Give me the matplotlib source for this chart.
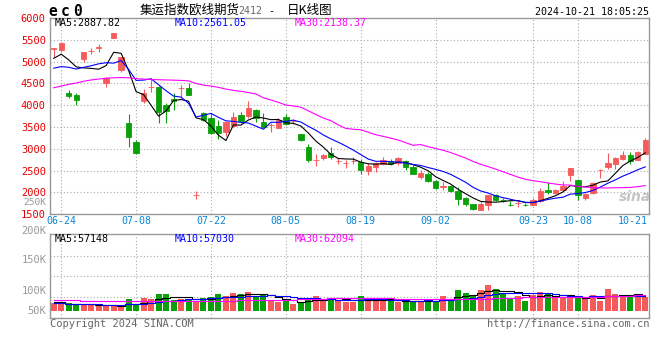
import matplotlib
matplotlib.use('Agg')
import matplotlib.pyplot as plt
import matplotlib.transforms as mtransforms
import numpy as np
import pandas as pd

plt.rcParams['font.family'] = ['DejaVu Sans Mono', 'Noto Sans CJK SC']
plt.rcParams['font.size'] = 7.2

# daily K-line, 80 sessions (06-21 .. 10-21)
OPEN = [5300, 5265, 4288, 4236, 5050, 5245, 5322, 4503, 5547, 4810,
        3602, 3167, 4098, 4420, 4426, 4007, 4150, 4398, 4403, 1943,
        3817, 3703, 3526, 3382, 3533, 3778, 3755, 3892, 3625, 3545,
        3488, 3739, 3636, 3343, 3039, 2743, 2787, 2916, 2728, 2682,
        2728, 2710, 2497, 2595, 2650, 2733, 2673, 2733, 2595, 2366,
        2428, 2252, 2133, 2138, 2039, 1872, 1742, 1605, 1719, 1948,
        1822, 1723, 1753, 1723, 1719, 1794, 2062, 1987, 2062, 2405,
        2275, 1872, 1987, 2515, 2573, 2657, 2771, 2863, 2748, 2879]
HIGH = [5310, 5455, 4343, 4275, 5230, 5304, 5396, 4648, 5661, 5115,
        3800, 3206, 4373, 4618, 4440, 4060, 4275, 4464, 4503, 2023,
        3854, 3817, 3664, 3630, 3854, 3854, 4098, 3908, 3817, 3588,
        3703, 3790, 3687, 3350, 3115, 2879, 2879, 3039, 2801, 2748,
        2810, 2771, 2673, 2710, 2810, 2771, 2824, 2740, 2634, 2520,
        2481, 2275, 2229, 2161, 2115, 1886, 1745, 1794, 1950, 1971,
        1872, 1794, 1794, 1760, 1872, 2101, 2238, 2085, 2252, 2560,
        2314, 1987, 2245, 2535, 2916, 2824, 2955, 2939, 2950, 3245]
LOW = [5110, 5226, 4174, 4007, 5000, 5167, 5213, 4426, 5533, 4770,
       3053, 2879, 4046, 4311, 3588, 3588, 3893, 4174, 4230, 1856,
       3641, 3336, 3229, 3305, 3510, 3600, 3703, 3611, 3474, 3396,
       3470, 3540, 3565, 3185, 2710, 2618, 2748, 2771, 2650, 2558,
       2657, 2421, 2405, 2481, 2634, 2634, 2634, 2520, 2420, 2314,
       2250, 2085, 2046, 2009, 1719, 1680, 1605, 1600, 1605, 1794,
       1781, 1680, 1658, 1680, 1703, 1780, 1964, 1964, 2046, 2252,
       1818, 1818, 1971, 2330, 2543, 2543, 2748, 2657, 2748, 2879]
CLOSE = [5305, 5420, 4219, 4121, 5215, 5250, 5327, 4631, 5647, 5100,
         3282, 2902, 4288, 4426, 3854, 3870, 4100, 4403, 4236, 1948,
         3664, 3359, 3359, 3625, 3739, 3641, 3945, 3703, 3510, 3549,
         3664, 3560, 3641, 3206, 2748, 2748, 2863, 2810, 2733, 2687,
         2733, 2520, 2618, 2687, 2748, 2650, 2787, 2573, 2428, 2458,
         2252, 2101, 2138, 2023, 1856, 1742, 1620, 1742, 1948, 1834,
         1818, 1719, 1758, 1719, 1818, 2039, 2000, 2046, 2154, 2558,
         1932, 1971, 2215, 2520, 2687, 2801, 2863, 2733, 2939, 3206]
# volume, thousand lots
VOLUME = [31.4, 28.8, 28.8, 22.3, 22.3, 22.3, 22.3, 19.7, 18.3, 18.3,
          45.9, 22.3, 51.1, 45.9, 65.5, 65.5, 41.9, 45.9, 45.9, 35.4,
          51.1, 52.4, 65.5, 57.6, 70.7, 65.5, 74.7, 57.6, 61.6, 41.9,
          35.4, 41.9, 26.2, 31.4, 48.5, 59.0, 45.9, 48.5, 41.9, 32.8,
          32.8, 57.6, 41.9, 41.9, 41.9, 41.9, 32.8, 35.4, 35.4, 35.4,
          45.9, 35.4, 57.6, 45.9, 81.2, 70.7, 61.6, 81.2, 100.9, 85.2,
          65.5, 51.1, 57.6, 39.3, 61.6, 74.7, 70.7, 51.1, 51.1, 51.1,
          52.4, 45.9, 61.6, 39.3, 85.2, 65.5, 55.0, 57.6, 55.0, 52.4]

# moving averages before a full window exists
MA5_HEAD = [5075, 5170, 5040, 4880]
MA10_HEAD = [4850, 4885, 4870, 4830, 4870, 4905, 4950, 4975, 4965]
MA30_HEAD = [4400, 4440, 4480, 4510, 4550, 4580, 4600, 4620, 4630, 4635,
             4630, 4610, 4600, 4590, 4585, 4580, 4575, 4570, 4560, 4500,
             4460, 4440, 4410, 4370, 4340, 4320, 4290, 4260, 4170]
VMA5_HEAD = [33, 33, 27, 26]
VMA10_HEAD = [30, 30, 28, 27, 26, 26, 25, 24, 23]
VMA30_HEAD = [43, 43, 43, 43, 39, 39, 39, 36, 36, 36,
              36, 36, 37, 37, 37, 37, 37, 37, 37, 39,
              39, 39, 39, 39, 39, 41, 41, 41, 41]

DATE_LABELS = ['06-24', '07-08', '07-22', '08-05', '08-19', '09-02', '09-23', '10-08', '10-21']
DATE_IDX = [1, 11, 21, 31, 41, 51, 64, 70, 79]
PRICE_TICKS = [1500, 2000, 2500, 3000, 3500, 4000, 4500, 5000, 5500, 6000]
VOL_LABELS = ['200K', '150K', '100K', '50K']

RED = '#f65a5a'
GREEN = '#0aa00a'
GRID = '#aaaaaa'
FRAME = '#999999'
W, H = 660., 360.


def moving_average(values, window, head):
    ma = pd.Series(values, dtype=float).rolling(window).mean()
    ma.iloc[:len(head)] = head
    return ma.values


def fxy(px, py):
    return px / W, 1 - py / H


def style_frame(ax):
    for s in ax.spines.values():
        s.set_color(FRAME)
        s.set_linewidth(1.0)
    ax.grid(True, color=GRID, linestyle=(0, (1, 2)), linewidth=0.8)
    ax.set_axisbelow(True)


def main():
    o, h, l, c = (np.array(a, dtype=float) for a in (OPEN, HIGH, LOW, CLOSE))
    vol = np.array(VOLUME)
    x = np.arange(len(c))
    colors = np.where(c >= o, RED, GREEN)

    fig = plt.figure(figsize=(6.6, 3.6), dpi=100)
    ax = fig.add_axes([50 / W, 1 - 214.3 / H, 599 / W, 196.3 / H])
    vax = fig.add_axes([50 / W, 1 - 318.3 / H, 599 / W, 84 / H])

    # price panel
    ax.vlines(x, l, h, colors=colors, linewidth=0.8)
    ax.bar(x, np.abs(c - o), bottom=np.minimum(o, c), width=0.72,
           color=colors, edgecolor=colors, linewidth=0.6)
    ax.plot(x, moving_average(c, 5, MA5_HEAD), color='black', lw=0.8)
    ax.plot(x, moving_average(c, 10, MA10_HEAD), color='#0000ff', lw=0.8)
    ax.plot(x, moving_average(c, 30, MA30_HEAD), color='#ff00ff', lw=0.8)
    ax.set_xlim(-0.5, len(c) - 0.5)
    ax.set_ylim(PRICE_TICKS[0], PRICE_TICKS[-1])
    ax.set_yticks(PRICE_TICKS)
    ax.set_yticklabels([str(t) for t in PRICE_TICKS], color='#e60000', fontsize=7.5)
    lift = mtransforms.ScaledTranslation(0, 2 / 100., fig.dpi_scale_trans)
    for lab in ax.get_yticklabels():
        lab.set_transform(lab.get_transform() + lift)
    ax.set_xticks(DATE_IDX[:-1])
    ax.set_xticklabels([])
    ax.tick_params(length=0, pad=3)
    style_frame(ax)

    tr = ax.get_xaxis_transform()
    for lab, i in zip(DATE_LABELS[:-1], DATE_IDX[:-1]):
        ax.text(i, -0.032, lab, transform=tr, ha='center', va='center', color='#0a86d6')
    ax.text(0.998, -0.032, DATE_LABELS[-1], transform=ax.transAxes,
            ha='right', va='center', color='#0a86d6')

    # volume panel
    vax.bar(x, vol, width=0.8, color=colors, linewidth=0)
    vax.step(x, moving_average(vol, 5, VMA5_HEAD), where='mid', color='black', lw=0.8)
    vax.step(x, moving_average(vol, 10, VMA10_HEAD), where='mid', color='#0000ff', lw=0.8)
    vax.step(x, moving_average(vol, 30, VMA30_HEAD), where='mid', color='#ff00ff', lw=0.8)
    vax.set_xlim(-0.5, len(c) - 0.5)
    vax.set_ylim(-30, 300)
    vax.set_xticks(DATE_IDX[:-1])
    vax.set_xticklabels([])
    vax.set_yticks([])
    vax.tick_params(length=0)
    style_frame(vax)
    for f in (0.255, 0.5, 0.745):
        vax.plot([0, 1], [f, f], transform=vax.transAxes, color=GRID,
                 linestyle=(0, (1, 2)), linewidth=0.8, zorder=0)

    # header
    for px, ch in zip([48, 61, 73], 'ec0'):
        fig.text(*fxy(px, 16), ch, fontsize=10.5, fontweight='bold', va='baseline')
    cjk = ['Noto Sans CJK SC', 'DejaVu Sans']
    fig.text(*fxy(140, 10.5), '集运指数欧线期货', family=cjk, fontsize=9, va='center')
    fig.text(*fxy(238, 11.5), '2412', color='#666666', va='center')
    fig.text(*fxy(268, 11.5), '-', va='center')
    fig.text(*fxy(287, 10.5), '日K线图', family=cjk, fontsize=9, va='center')
    fig.text(*fxy(649, 11.7), '2024-10-21 18:05:25', ha='right', va='center')

    for px, txt, col in [(54.7, 'MA5:2887.82', 'black'), (174.7, 'MA10:2561.05', '#0000ff'),
                         (294.7, 'MA30:2138.37', '#ff00ff')]:
        fig.text(*fxy(px, 22.6), txt, color=col, va='center')
    for px, txt, col in [(54.7, 'MA5:57148', 'black'), (174.7, 'MA10:57030', '#0000ff'),
                         (294.7, 'MA30:62094', '#ff00ff')]:
        fig.text(*fxy(px, 238.5), txt, color=col, va='center')

    fig.text(*fxy(46.5, 197.8), '250K', color='#999999', ha='right', va='top', fontsize=6.8)
    for py, lab in zip([230.7, 260, 290.7, 310.7], VOL_LABELS):
        fig.text(*fxy(46.5, py), lab, color='#999999', ha='right', va='center', fontsize=7.5)

    fig.text(*fxy(635, 197), 'sina', family='DejaVu Sans', fontsize=10, fontweight='bold',
             style='italic', color='#c4c4c4', ha='center', va='center')

    fig.text(*fxy(50, 324), 'Copyright 2024 SINA.COM', color='#666666', va='center', fontsize=7.5)
    fig.text(*fxy(649, 324), 'http://finance.sina.com.cn', color='#666666', ha='right',
             va='center', fontsize=7.5)

    fig.savefig('out.png', dpi=100)
    plt.close(fig)


if __name__ == '__main__':
    main()
